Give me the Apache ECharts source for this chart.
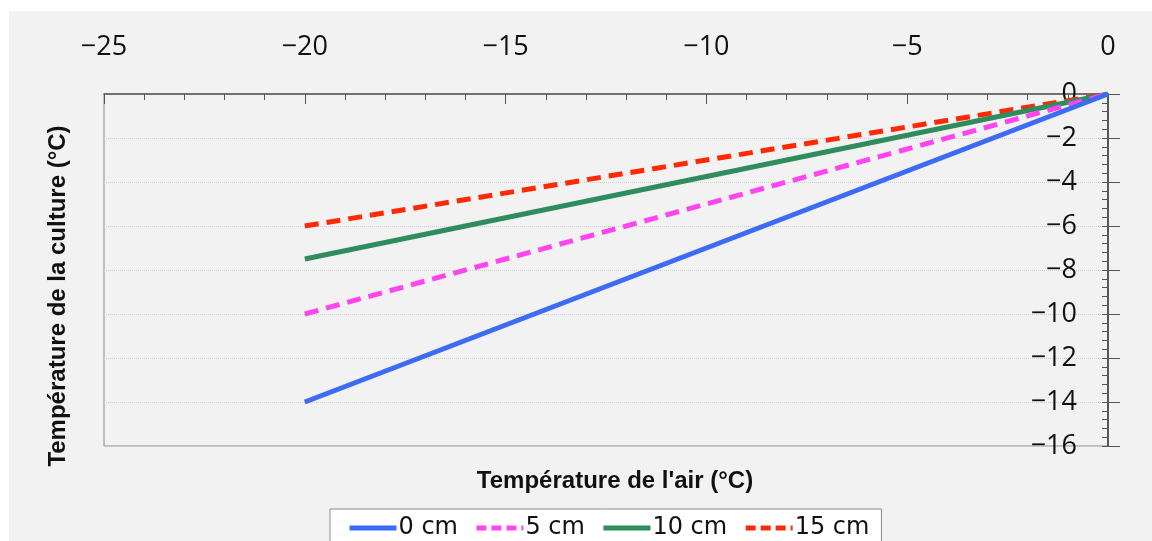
<!DOCTYPE html>
<html>
<head>
<meta charset="utf-8">
<script src="https://cdn.jsdelivr.net/npm/echarts@6/dist/echarts.min.js"></script>
<style>
html,body{margin:0;padding:0;background:#ffffff;width:1152px;height:541px;overflow:hidden;}
#chart{position:absolute;left:9px;top:11px;width:1143px;height:530px;background:#f2f2f2;}
</style>
</head>
<body>
<div id="chart"></div>
<script>
// Data
const airTemp = [-20, 0];
const crop0cm = [-14, 0];
const crop5cm = [-10, 0];
const crop10cm = [-7.5, 0];
const crop15cm = [-6, 0];
const seriesNames = ['0 cm', '5 cm', '10 cm', '15 cm'];
const xTitle = "Température de l'air (°C)";
const yTitle = 'Température de la culture (°C)';

const colors = ['#3c6cf4', '#ff45f2', '#2f8c5c', '#ff2a05'];
const dashed = [false, true, false, true];
const values = [crop0cm, crop5cm, crop10cm, crop15cm];

function fmt(v) { return v < 0 ? '\u2212' + Math.abs(v) : String(v); }

const chart = echarts.init(document.getElementById('chart'));
const tickFont = { fontFamily: 'Open Sans', fontSize: 27, color: '#111', lineHeight: 27 };

const series = seriesNames.map((name, i) => ({
  name: name,
  type: 'line',
  xAxisIndex: 0,
  yAxisIndex: 0,
  symbol: 'none',
  showSymbol: false,
  silent: true,
  animation: false,
  data: airTemp.map((x, j) => [x, values[i][j]]),
  lineStyle: { color: colors[i], width: 5, type: dashed[i] ? [14, 8] : 'solid', cap: 'butt' },
  itemStyle: { color: colors[i] },
  z: 10 - i
}));

chart.setOption({
  animation: false,
  grid: {
    left: 95, right: 44, top: 83, bottom: 95,
    show: true, borderColor: '#8a8a8a', borderWidth: 1, backgroundColor: 'transparent'
  },
  xAxis: [{
    type: 'value', position: 'top', min: -25, max: 0, interval: 5,
    axisLine: { show: true, lineStyle: { color: '#555', width: 1.5 } },
    axisTick: { show: true, inside: true, length: 10, lineStyle: { color: '#555', width: 1 } },
    minorTick: { show: true, splitNumber: 5, length: 6, lineStyle: { color: '#555', width: 1 } },
    axisLabel: Object.assign({ margin: 33, formatter: fmt }, tickFont),
    splitLine: { show: false }
  }],
  yAxis: [{
    type: 'value', position: 'right', min: -16, max: 0, interval: 2,
    axisLine: { show: true, lineStyle: { color: '#333', width: 1.5 } },
    axisTick: { show: true, inside: false, length: 12, lineStyle: { color: '#555', width: 1 } },
    axisLabel: Object.assign({ inside: true, margin: 31, formatter: fmt, align: 'right' }, tickFont),
    splitLine: { show: true, lineStyle: { color: '#cfcfcf', type: 'dotted', width: 1 } }
  }, {
    type: 'value', position: 'right', min: -16, max: 0, interval: 2,
    axisLine: { show: false },
    axisTick: { show: true, inside: true, length: 6, lineStyle: { color: '#555', width: 1 } },
    minorTick: { show: true, splitNumber: 5, length: 6, lineStyle: { color: '#555', width: 1 } },
    axisLabel: { show: false },
    splitLine: { show: false }
  }],
  legend: {
    left: 321, top: 498,
    orient: 'horizontal',
    itemWidth: 47, itemHeight: 14, itemGap: 16,
    padding: [7, 12, 20, 17],
    backgroundColor: '#ffffff', borderColor: '#8a8a8a', borderWidth: 1,
    selectedMode: false,
    itemStyle: { opacity: 0, borderWidth: 0 },
    textStyle: { fontFamily: 'DejaVu Sans', fontSize: 24, color: '#111', padding: [0, 0, 0, -3] },
    data: seriesNames.map((n, i) => ({
      name: n,
      itemStyle: { opacity: 0, borderWidth: 0 },
      lineStyle: { color: colors[i], width: 5, type: dashed[i] ? [10, 5] : 'solid' }
    }))
  },
  graphic: [{
    type: 'text',
    x: 606, y: 470,
    style: { text: xTitle, font: 'bold 24px "Liberation Sans", Arial, sans-serif', fill: '#111', textAlign: 'center', textVerticalAlign: 'middle' }
  }, {
    type: 'text',
    x: 49, y: 285,
    rotation: Math.PI / 2,
    style: { text: yTitle, font: 'bold 24px "Liberation Sans", Arial, sans-serif', fill: '#111', textAlign: 'center', textVerticalAlign: 'middle' }
  }],
  series: series
});
</script>
</body>
</html>
